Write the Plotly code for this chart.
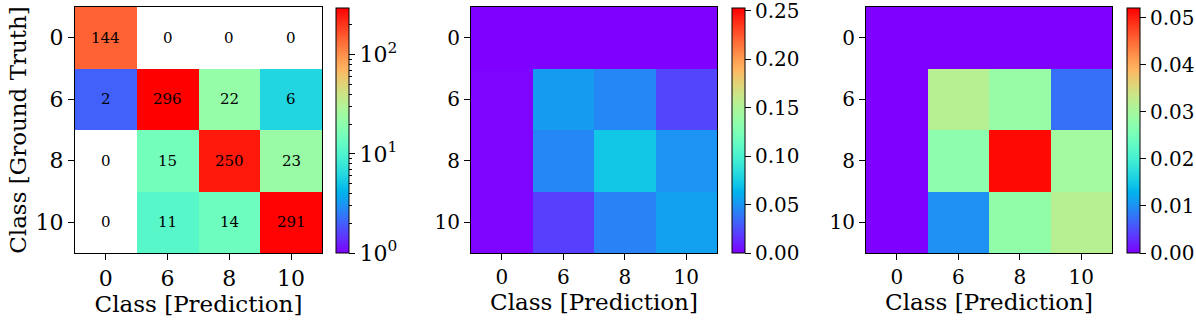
import numpy as np
import plotly.graph_objects as go

# Data
classes = ['0', '6', '8', '10']
counts = [[144, 0, 0, 0],
          [2, 296, 22, 6],
          [0, 15, 250, 23],
          [0, 11, 14, 291]]
err_a = [[0.0, 0.0, 0.0, 0.0],
         [0.001, 0.053, 0.045, 0.022],
         [0.001, 0.045, 0.072, 0.050],
         [0.001, 0.020, 0.043, 0.055]]
err_b = [[0.0, 0.0, 0.0, 0.0],
         [0.0, 0.0317, 0.0286, 0.0075],
         [0.0, 0.0274, 0.0515, 0.0296],
         [0.0, 0.0099, 0.0280, 0.0317]]
cb_a_ticks = [0, 0.05, 0.1, 0.15, 0.2, 0.25]
cb_b_ticks = [0, 0.01, 0.02, 0.03, 0.04, 0.05]

W, H = 1196, 322
FONT = 'DejaVu Serif'


# matplotlib "rainbow" colormap
def rainbow_scale(n=33):
    scale = []
    for t in np.linspace(0, 1, n):
        r = min(1.0, abs(2 * t - 0.5))
        g = np.sin(np.pi * t)
        b = np.cos(np.pi * t / 2)
        scale.append([float(t), 'rgb(%d,%d,%d)' % (round(r * 255), round(g * 255), round(b * 255))])
    return scale


RB = rainbow_scale()


def cbar(x0, tickvals, ticktext=None, ticklen=6, outline=1, font=20):
    d = dict(x=x0 / W, xref='paper', xanchor='left', xpad=0,
             y=(H - 253) / H, yanchor='bottom', ypad=0,
             len=245 / H, lenmode='fraction', thickness=13,
             outlinewidth=outline, outlinecolor='black',
             ticks='outside', ticklen=ticklen, tickwidth=1, tickcolor='black',
             ticklabeloverflow='allow',
             tickvals=tickvals, tickfont=dict(family=FONT, size=font, color='black'))
    if ticktext is None:
        d['showticklabels'] = False
    else:
        d['ticktext'] = ticktext
    return d


fig = go.Figure()
idx = list(range(len(classes)))

# panel 1: log counts, zeros masked (white)
logz = [[np.log10(v) if v > 0 else None for v in row] for row in counts]
zmax = np.log10(max(max(r) for r in counts))
minor = [np.log10(k * m) for m in (1, 10, 100) for k in range(2, 10) if k * m < 300]
fig.add_trace(go.Heatmap(z=logz, x=idx, y=idx, colorscale=RB, zmin=0, zmax=zmax,
                         colorbar=cbar(336, minor, ticklen=3, outline=0),
                         hoverinfo='skip', xaxis='x', yaxis='y'))
fig.add_trace(go.Heatmap(z=logz, x=idx, y=idx, colorscale=RB, zmin=0, zmax=zmax,
                         colorbar=cbar(336, [0, 1, 2], ['10<sup>0</sup>', '10<sup>1</sup>', '10<sup>2</sup>'], font=22),
                         customdata=counts, hovertemplate='%{customdata}<extra></extra>',
                         xaxis='x', yaxis='y'))
for i, row in enumerate(counts):
    for j, v in enumerate(row):
        fig.add_annotation(x=j, y=i, xref='x', yref='y', text=str(v), showarrow=False,
                           font=dict(family=FONT, size=15, color='black'))

# panel 2
fig.add_trace(go.Heatmap(z=err_a, x=idx, y=idx, colorscale=RB, zmin=0, zmax=0.253,
                         colorbar=cbar(732, cb_a_ticks, ['%.2f' % v for v in cb_a_ticks]),
                         xaxis='x2', yaxis='y2'))

# panel 3
fig.add_trace(go.Heatmap(z=err_b, x=idx, y=idx, colorscale=RB, zmin=0, zmax=0.0521,
                         colorbar=cbar(1127, cb_b_ticks, ['%.2f' % v for v in cb_b_ticks]),
                         xaxis='x3', yaxis='y3'))


def ax(domain, title=None, font=20, anchor=None, reverse=False):
    d = dict(domain=domain, range=[3.5, -0.5] if reverse else [-0.5, 3.5],
             tickvals=idx, ticktext=classes, ticks='outside', ticklen=6,
             tickcolor='black', showline=True, mirror=True, linecolor='black', linewidth=1,
             showgrid=False, zeroline=False, fixedrange=True, automargin=False,
             tickfont=dict(family=FONT, size=font, color='black'))
    if anchor:
        d['anchor'] = anchor
    if title:
        d['title'] = dict(text=title, font=dict(family=FONT, size=23, color='black'), standoff=2)
    return d


ydom = [(H - 253) / H, (H - 7) / H]
fig.update_layout(
    width=W, height=H, margin=dict(l=0, r=0, t=0, b=0, autoexpand=False),
    paper_bgcolor='white', plot_bgcolor='white', showlegend=False,
    xaxis=ax([75 / W, 322 / W], 'Class [Prediction]', font=22, anchor='y'),
    yaxis=ax(ydom, 'Class [Ground Truth]', font=22, anchor='x', reverse=True),
    xaxis2=ax([471 / W, 717 / W], 'Class [Prediction]', anchor='y2'),
    yaxis2=ax(ydom, anchor='x2', reverse=True),
    xaxis3=ax([866 / W, 1112 / W], 'Class [Prediction]', anchor='y3'),
    yaxis3=ax(ydom, anchor='x3', reverse=True),
)

fig.write_html('out.html', config={'displayModeBar': False},
               post_script="document.body.style.margin='0';")
